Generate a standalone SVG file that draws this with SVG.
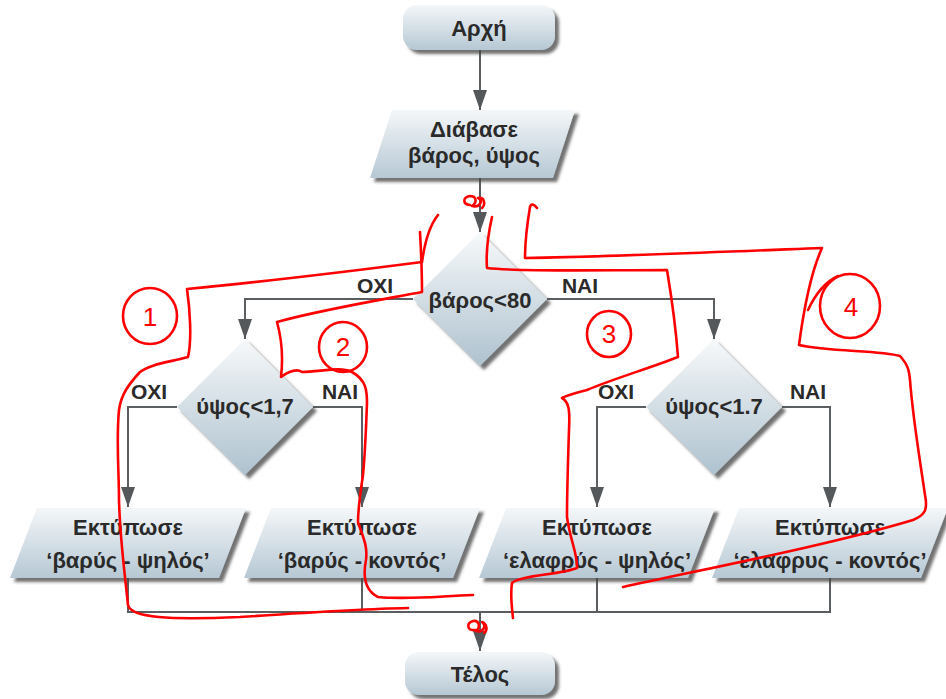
<svg xmlns="http://www.w3.org/2000/svg" width="946" height="699" viewBox="0 0 946 699">
<defs>
<linearGradient id="gBox" x1="0" y1="0" x2="0" y2="1">
<stop offset="0" stop-color="#f4f7f9"/>
<stop offset="1" stop-color="#b6c8d4"/>
</linearGradient>
<linearGradient id="gDia" x1="0" y1="0" x2="0" y2="1">
<stop offset="0" stop-color="#f7f9fa"/>
<stop offset="1" stop-color="#aec2cf"/>
</linearGradient>
<filter id="sh" x="-10%" y="-10%" width="125%" height="130%">
<feGaussianBlur in="SourceAlpha" stdDeviation="1.6"/>
<feOffset dx="4" dy="4" result="o"/>
<feFlood flood-color="#444" flood-opacity="0.75"/>
<feComposite in2="o" operator="in"/>
<feMerge><feMergeNode/><feMergeNode in="SourceGraphic"/></feMerge>
</filter>
<marker id="arr" viewBox="0 0 20 14" refX="20" refY="7" markerWidth="20" markerHeight="14" markerUnits="userSpaceOnUse" orient="auto">
<path d="M0,0 L20,7 L0,14 z" fill="#55585b"/>
</marker>
</defs>
<style>
.box{fill:url(#gBox);filter:url(#sh)}
.dia{fill:url(#gDia);filter:url(#sh)}
.t{font-family:"Liberation Sans",Arial,sans-serif;font-weight:bold;font-size:22px;fill:#2a2a2a;text-anchor:middle}
.lb{font-family:"Liberation Sans",Arial,sans-serif;font-weight:bold;font-size:21px;fill:#2a2a2a;text-anchor:middle}
.c{fill:none;stroke:#5b5e61;stroke-width:2}
.r{fill:none;stroke:#ff0000;stroke-width:2.6;stroke-linecap:round;stroke-linejoin:round}
.rn{font-family:"Liberation Sans",Arial,sans-serif;font-size:26px;fill:#ff0000;text-anchor:middle}
</style>
<rect width="946" height="699" fill="#ffffff"/>

<g id="connectors">
<path class="c" d="M480,50 V110" marker-end="url(#arr)"/>
<path class="c" d="M480,178 V232" marker-end="url(#arr)"/>
<path class="c" d="M413,299 H245 V339" marker-end="url(#arr)"/>
<path class="c" d="M547,299 H714 V339" marker-end="url(#arr)"/>
<path class="c" d="M177,407 H128 V507" marker-end="url(#arr)"/>
<path class="c" d="M313,407 H362 V507" marker-end="url(#arr)"/>
<path class="c" d="M646,407 H597 V507" marker-end="url(#arr)"/>
<path class="c" d="M782,407 H830 V507" marker-end="url(#arr)"/>
<path class="c" d="M128,578 V612 H830 V578 M362,578 V612 M597,578 V612"/>
<path class="c" d="M480,612 V651" marker-end="url(#arr)"/>
<text class="lb" x="375" y="293">OXI</text>
<text class="lb" x="580" y="293">NAI</text>
<text class="lb" x="149" y="399">OXI</text>
<text class="lb" x="340" y="399">NAI</text>
<text class="lb" x="616" y="399">OXI</text>
<text class="lb" x="808" y="399">NAI</text>
</g>

<g id="start">
<rect class="box" x="403" y="5" width="152" height="45" rx="14"/>
<text class="t" x="479" y="36">Αρχή</text>
</g>

<g id="read">
<polygon class="box" points="392,110 575,110 553,178 370,178"/>
<text class="t" x="474" y="137">Διάβασε</text>
<text class="t" x="474" y="163">βάρος, ύψος</text>
</g>

<g id="cond-weight">
<polygon class="dia" points="480,232 547,299 480,366 413,299"/>
<text class="t" x="480" y="308">βάρος&lt;80</text>
</g>

<g id="cond-height-1">
<polygon class="dia" points="245,339 313,407 245,475 177,407"/>
<text class="t" x="245" y="414">ύψος&lt;1,7</text>
</g>

<g id="cond-height-2">
<polygon class="dia" points="714,339 782,407 714,475 646,407"/>
<text class="t" x="714" y="414">ύψος&lt;1.7</text>
</g>

<g id="out-1">
<polygon class="box" points="37,508 246,508 219,578 10,578"/>
<text class="t" x="128" y="535">Εκτύπωσε</text>
<text class="t" x="128" y="568">‘βαρύς - ψηλός’</text>
</g>

<g id="out-2">
<polygon class="box" points="271,508 480,508 453,578 244,578"/>
<text class="t" x="362" y="535">Εκτύπωσε</text>
<text class="t" x="362" y="568">‘βαρύς - κοντός’</text>
</g>

<g id="out-3">
<polygon class="box" points="506,508 715,508 688,578 479,578"/>
<text class="t" x="597" y="535">Εκτύπωσε</text>
<text class="t" x="597" y="568">‘ελαφρύς - ψηλός’</text>
</g>

<g id="out-4">
<polygon class="box" points="739,508 948,508 921,578 712,578"/>
<text class="t" x="830" y="535">Εκτύπωσε</text>
<text class="t" x="830" y="568">‘ελαφρυς - κοντός’</text>
</g>

<g id="end">
<rect class="box" x="405" y="652" width="150" height="43" rx="14"/>
<text class="t" x="480" y="682">Τέλος</text>
</g>

<g id="annotations">
<path class="r" d="M438,215 C430,225 425,240 422,262 C360,270 260,282 187,289 C190,310 192,340 188,357 C170,362 150,364 140,372 C128,385 121,395 119,410 C116,440 119,470 119,500 C120,540 125,575 128,605 C131,618 170,620 240,617 C300,613 360,609 408,608"/>
<path class="r" d="M420,232 C421,250 422,275 422,292 C380,300 320,310 277,322 C282,340 283,360 281,377 C288,372 296,368 302,372 C320,372 340,366 352,372 C366,380 367,390 367,403 C366,430 365,455 363,475 C360,495 358,510 358,522 C362,535 368,545 366,560 C363,575 364,590 378,597 C410,600 440,596 473,595"/>
<path class="r" d="M492,217 C488,235 486,255 487,268 C520,272 600,270 667,270 C672,300 676,330 678,357 C650,368 610,380 587,390 C575,393 566,396 562,398 C569,402 570,410 569,430 C568,460 567,490 567,517 C570,540 578,555 577,568 C560,575 520,575 512,583 C510,595 512,608 513,618"/>
<path class="r" d="M537,208 C534,204 531,203 530,207 C527,225 525,245 525,258 C600,257 720,252 822,248 C812,270 805,300 799,345 C830,352 880,350 900,356 C908,365 909,370 910,380 C913,420 920,460 925,495 C928,510 925,515 913,520 C830,545 700,570 623,587"/>
<ellipse class="r" cx="150" cy="316" rx="27" ry="28"/>
<ellipse class="r" cx="343" cy="347" rx="24" ry="25"/>
<ellipse class="r" cx="609" cy="334" rx="22" ry="23"/>
<ellipse class="r" cx="850" cy="306" rx="30" ry="32"/>
<path class="r" d="M808,310 C815,295 825,282 838,276"/>
<text class="rn" x="150" y="326">1</text>
<text class="rn" x="343" y="356">2</text>
<text class="rn" x="609" y="343">3</text>
<text class="rn" x="851" y="316">4</text>
<path class="r" stroke-width="3" d="M470,205 C462,204 463,197 470,196 C476,196 478,202 472,206 C480,208 484,200 478,198 C484,196 486,204 482,208"/>
<path class="r" stroke-width="3" d="M475,630 C467,631 466,623 473,621 C479,620 481,627 476,631 C483,633 487,626 482,622 C487,624 488,630 484,633"/>
</g>
</svg>
